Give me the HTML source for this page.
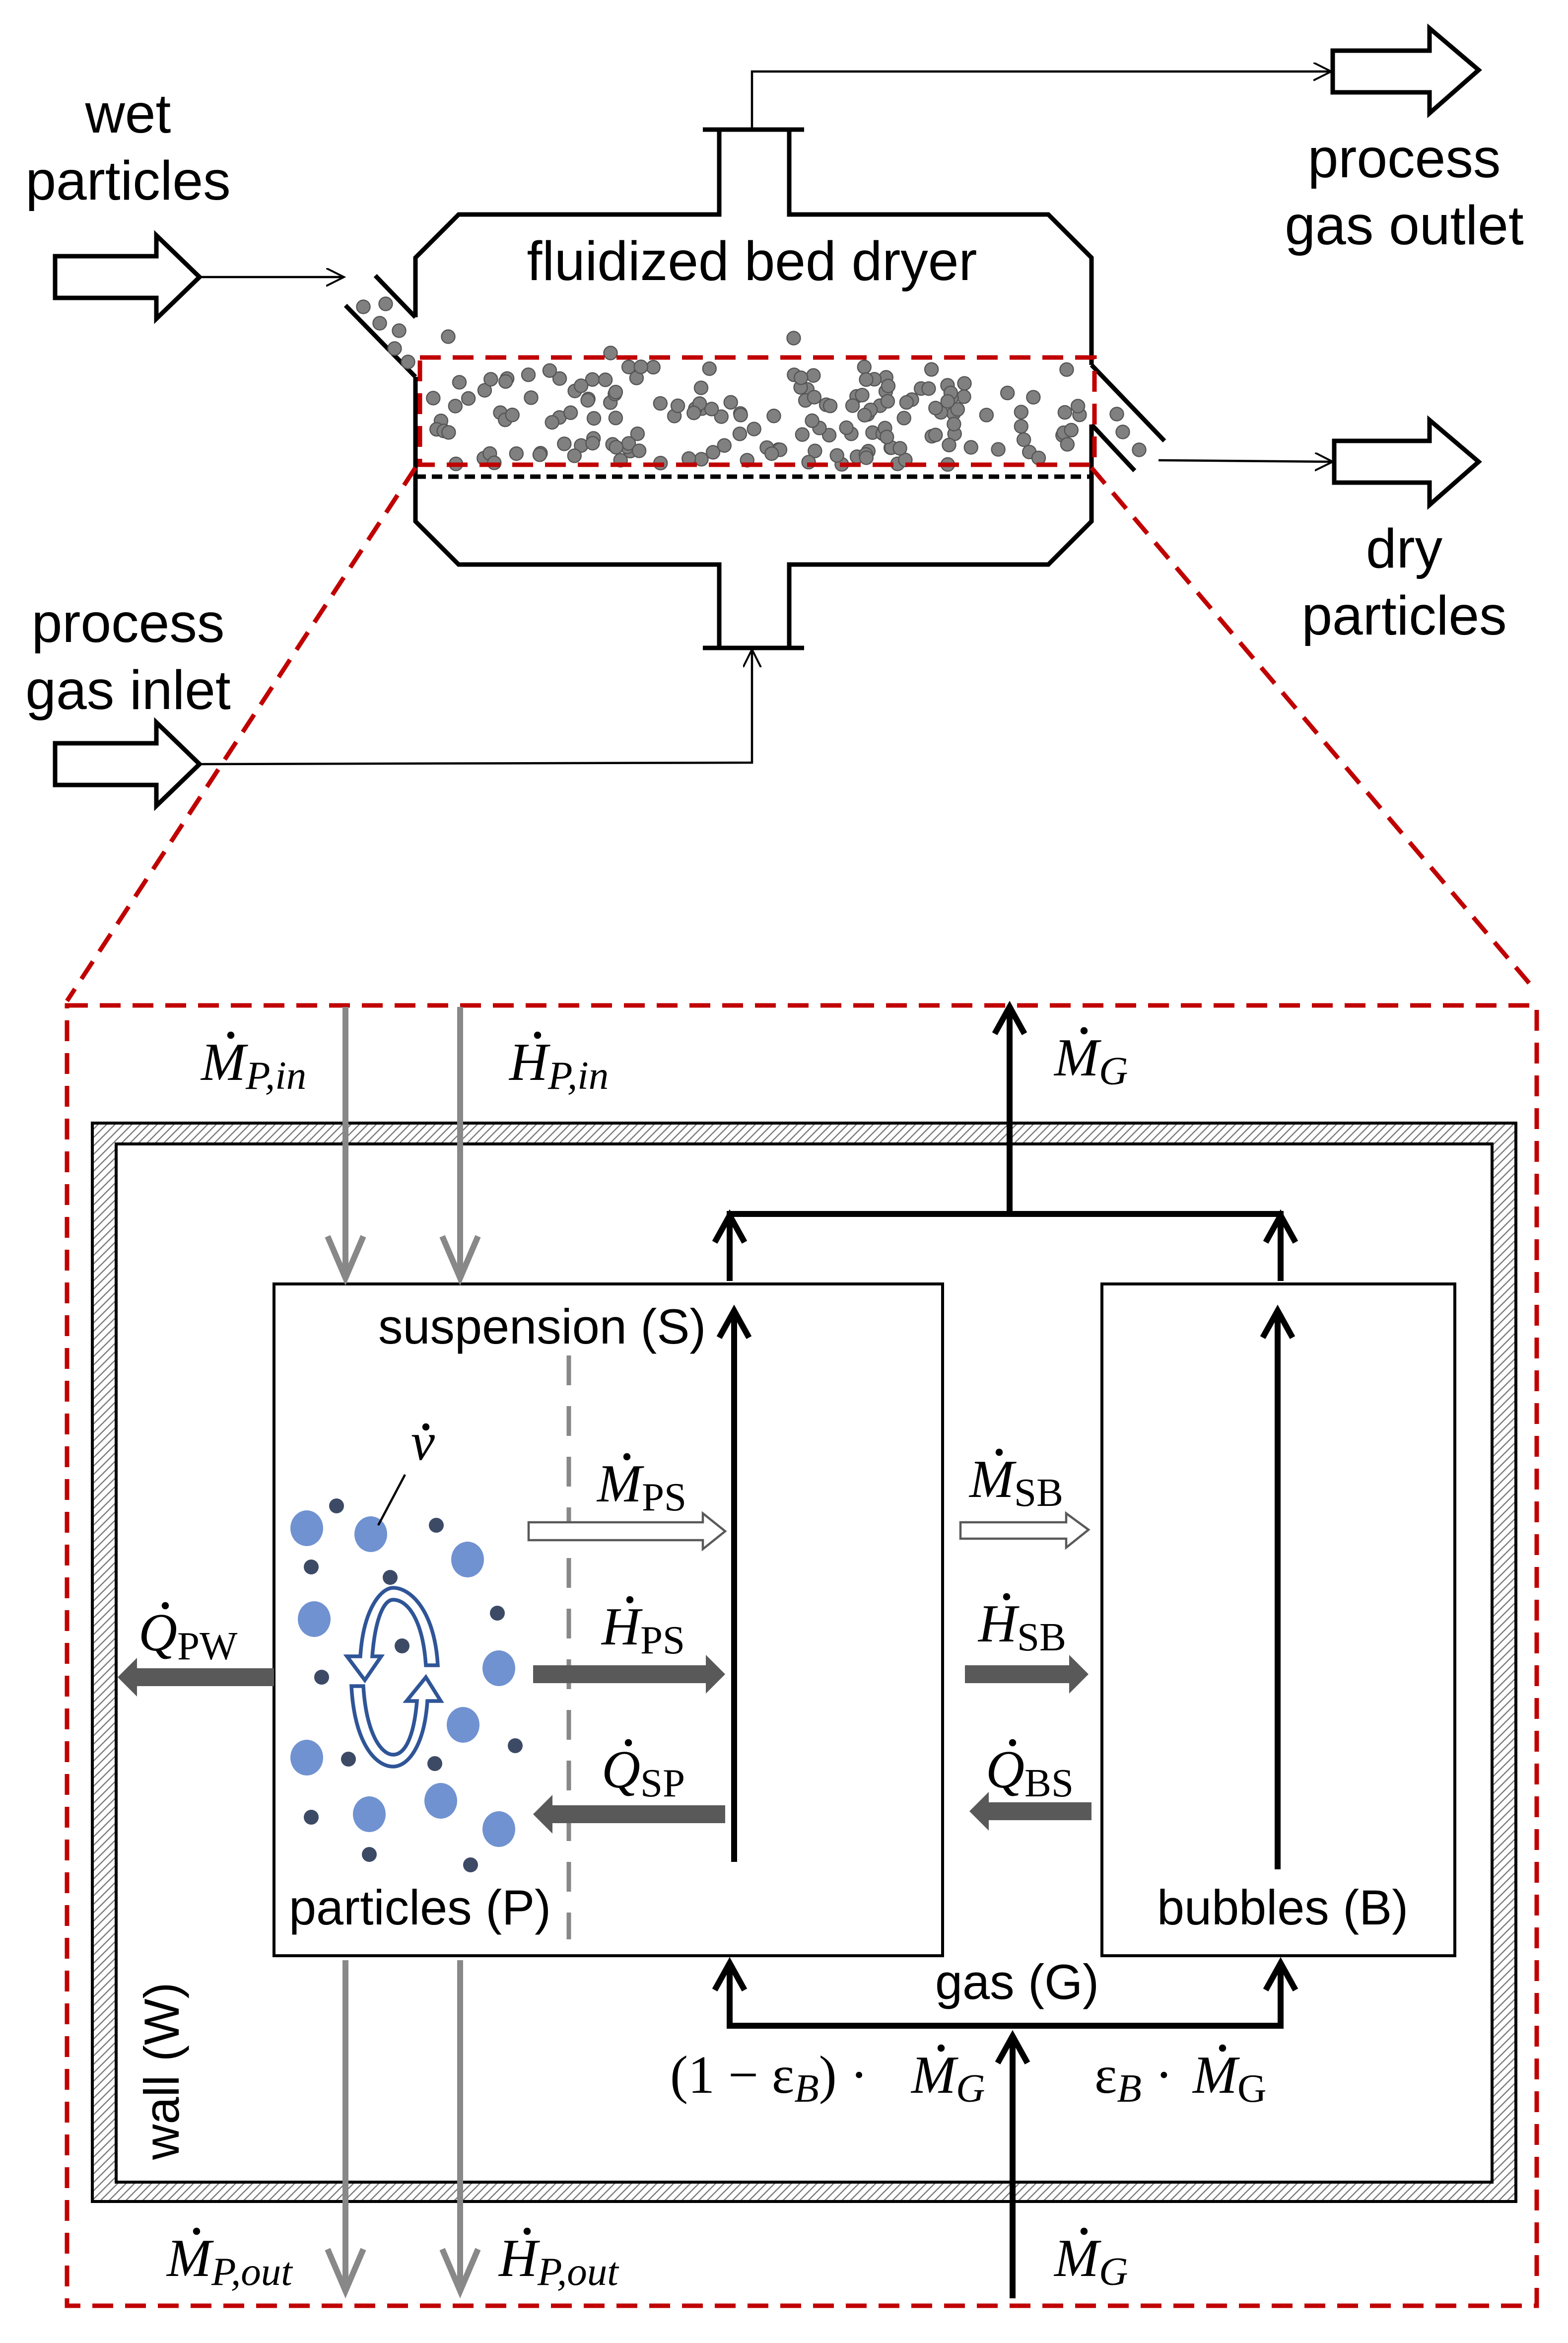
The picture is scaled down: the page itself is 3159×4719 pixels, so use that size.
<!DOCTYPE html>
<html><head><meta charset="utf-8"><style>html,body{margin:0;padding:0;background:#fff}svg{display:block}</style></head>
<body>
<svg id="s" xmlns="http://www.w3.org/2000/svg" width="3159" height="4719" viewBox="0 0 1053 1573">
<defs>
<pattern id="h" width="4" height="4" patternUnits="userSpaceOnUse" patternTransform="rotate(45)"><rect width="4" height="4" fill="#fff"/><line x1="0" y1="0" x2="0" y2="4" stroke="#777" stroke-width="1.6"/></pattern>
<marker id="oa" markerWidth="14" markerHeight="14" refX="12" refY="6" orient="auto" markerUnits="userSpaceOnUse"><path d="M0,0 L12,6 L0,12" fill="none" stroke="#000" stroke-width="1.3"/></marker>
</defs>
<g font-family="Liberation Sans, sans-serif" font-size="37" text-anchor="middle" fill="#000">
<text x="86" y="89">wet</text><text x="86" y="134">particles</text>
<text x="943" y="119">process</text><text x="943" y="164">gas outlet</text>
<text x="943" y="381">dry</text><text x="943" y="426">particles</text>
<text x="86" y="431">process</text><text x="86" y="476">gas inlet</text>
<text x="505" y="188">fluidized bed dryer</text>
</g>
<g fill="#fff" stroke="#000" stroke-width="3">
<path d="M37,172 H105 V158 L134,186 L105,214 V200 H37 Z"/>
<path d="M37,499 H105 V485 L134,513 L105,541 V527 H37 Z"/>
<path d="M895,34 H960 V19 L993,47 L960,76 V62 H895 Z"/>
<path d="M896,296 H960 V282 L993,310 L960,339 V324 H896 Z"/>
</g>
<g fill="none" stroke="#000" stroke-width="1.5">
<line x1="134" y1="186" x2="231" y2="186" marker-end="url(#oa)"/>
<polyline points="505,87 505,48 894,48" marker-end="url(#oa)"/>
<line x1="778" y1="309" x2="895" y2="310" marker-end="url(#oa)"/>
<polyline points="134,513 505,512 505,436" marker-end="url(#oa)"/>
</g>
<g fill="none" stroke="#000" stroke-width="3">
<path d="M279,213 V173 L308,144 H483 V87 M472,87 H540 M530,87 V144 H704 L733,173 V245"/>
<path d="M733,285 V350 L704,379 H530 V435 M472,435 H540 M483,435 V379 H308 L279,350 V253"/>
<line x1="252" y1="185" x2="279" y2="213"/><line x1="232" y1="205" x2="279" y2="253"/>
<line x1="733" y1="245" x2="782" y2="296"/><line x1="733" y1="285" x2="762" y2="316"/>
<line x1="279" y1="320" x2="733" y2="320" stroke-dasharray="7,4"/>
</g>
<g id="dots" fill="#808080" stroke="#555" stroke-width="0.8"></g>
<g fill="none" stroke="#c00000" stroke-width="3" stroke-dasharray="14,8">
<rect x="282" y="240" width="453" height="72"/>
<line x1="279" y1="314" x2="45" y2="672"/><line x1="733" y1="314" x2="1032" y2="666"/>
<rect x="45" y="675" width="987" height="873"/>
</g>
<path d="M62,754 H1018 V1478 H62 Z M78,768 V1465 H1002 V768 Z" fill="url(#h)" fill-rule="evenodd" stroke="#000" stroke-width="2"/>
<rect x="184" y="862" width="449" height="451" fill="#fff" stroke="#000" stroke-width="2"/>
<rect x="740" y="862" width="237" height="451" fill="#fff" stroke="#000" stroke-width="2"/>
<g font-family="Liberation Sans, sans-serif" font-size="33" fill="#000">
<text x="254" y="902">suspension (S)</text>
<text x="194" y="1292">particles (P)</text>
<text x="777" y="1292">bubbles (B)</text>
<text x="628" y="1342">gas (G)</text>
<text transform="translate(120,1450) rotate(-90)">wall (W)</text>
</g>
<line x1="382" y1="910" x2="382" y2="1302" stroke="#888" stroke-width="3" stroke-dasharray="20,14"/>
<g stroke="#888" stroke-width="4" fill="none">
<line x1="232" y1="676" x2="232" y2="856"/><line x1="309" y1="676" x2="309" y2="856"/>
<polyline points="220,830 232,858 244,830"/><polyline points="297,830 309,858 321,830"/>
<line x1="232" y1="1316" x2="232" y2="1536"/><line x1="309" y1="1316" x2="309" y2="1536"/>
<polyline points="220,1510 232,1538 244,1510"/><polyline points="297,1510 309,1538 321,1510"/>
</g>
<g stroke="#000" stroke-width="4" fill="none">
<line x1="678" y1="815" x2="678" y2="678"/><polyline points="668,694 678,676 688,694"/>
<polyline points="490,860 490,815 860,815 860,860"/>
<polyline points="480,834 490,816 500,834"/><polyline points="850,834 860,816 870,834"/>
<line x1="493" y1="1250" x2="493" y2="880"/><polyline points="483,898 493,880 503,898"/>
<line x1="858" y1="1255" x2="858" y2="880"/><polyline points="848,898 858,880 868,898"/>
<polyline points="490,1318 490,1360 860,1360 860,1318"/>
<polyline points="480,1336 490,1318 500,1336"/><polyline points="850,1336 860,1318 870,1336"/>
<line x1="680" y1="1543" x2="680" y2="1367"/><polyline points="670,1385 680,1367 690,1385"/>
</g>
<g stroke="#595959" stroke-width="1.5" fill="#fff">
<path d="M355,1022 H472 V1016 L487,1028 L472,1040 V1034 H355 Z"/>
<path d="M645,1022 H716 V1016 L731,1027 L716,1039 V1033 H645 Z"/>
</g>
<g fill="#595959">
<path d="M358,1118 H474 V1111 L487,1124 L474,1137 V1130 H358 Z"/>
<path d="M487,1212 H371 V1205 L358,1218 L371,1231 V1224 H487 Z"/>
<path d="M184,1120 H92 V1113 L79,1126 L92,1139 V1132 H184 Z"/>
<path d="M648,1118 H718 V1111 L731,1124 L718,1137 V1130 H648 Z"/>
<path d="M733,1210 H664 V1203 L651,1216 L664,1229 V1222 H733 Z"/>
</g>
<g fill="#7092d1">
<ellipse cx="206" cy="1026" rx="11" ry="12"/><ellipse cx="249" cy="1030" rx="11" ry="12"/><ellipse cx="314" cy="1047" rx="11" ry="12"/>
<ellipse cx="211" cy="1087" rx="11" ry="12"/><ellipse cx="335" cy="1120" rx="11" ry="12"/><ellipse cx="311" cy="1158" rx="11" ry="12"/>
<ellipse cx="206" cy="1180" rx="11" ry="12"/><ellipse cx="296" cy="1209" rx="11" ry="12"/><ellipse cx="248" cy="1218" rx="11" ry="12"/><ellipse cx="335" cy="1228" rx="11" ry="12"/>
</g>
<g fill="#3c4a66">
<circle cx="226" cy="1011" r="5"/><circle cx="293" cy="1024" r="5"/><circle cx="209" cy="1052" r="5"/><circle cx="262" cy="1059" r="5"/>
<circle cx="334" cy="1083" r="5"/><circle cx="270" cy="1105" r="5"/><circle cx="216" cy="1126" r="5"/><circle cx="346" cy="1172" r="5"/>
<circle cx="234" cy="1181" r="5"/><circle cx="292" cy="1184" r="5"/><circle cx="209" cy="1220" r="5"/><circle cx="248" cy="1245" r="5"/><circle cx="316" cy="1252" r="5"/>
</g>
<g fill="#fff" stroke="#2f5597" stroke-width="2.5">
<path d="M242,1112 C244,1080 256,1066 264,1066 C276,1066 292,1082 294,1118 L286,1118 C284,1088 274,1074 264,1074 C258,1074 252,1086 250,1112 L256,1112 L245,1128 L233,1112 Z"/>
<path d="M287,1142 C285,1172 274,1186 264,1186 C252,1186 238,1170 236,1132 L244,1132 C246,1164 256,1178 264,1178 C272,1178 278,1166 280,1142 L273,1142 L286,1126 L296,1142 Z"/>
</g>
<line x1="272" y1="990" x2="254" y2="1024" stroke="#000" stroke-width="1.5"/>
<g font-family="Liberation Serif, serif" font-size="36" fill="#000">
<text x="135" y="725" font-style="italic">M<tspan font-size="27" dy="6">P,in</tspan></text>
<text x="342" y="725" font-style="italic">H<tspan font-size="27" dy="6">P,in</tspan></text>
<text x="708" y="722" font-style="italic">M<tspan font-size="27" dy="6">G</tspan></text>
<text x="112" y="1528" font-style="italic">M<tspan font-size="27" dy="6">P,out</tspan></text>
<text x="335" y="1528" font-style="italic">H<tspan font-size="27" dy="6">P,out</tspan></text>
<text x="708" y="1528" font-style="italic">M<tspan font-size="27" dy="6">G</tspan></text>
<text x="450" y="1405">(1 − ε<tspan font-size="27" dy="6" font-style="italic">B</tspan><tspan dy="-6">) ·</tspan></text>
<text x="612" y="1405" font-style="italic">M<tspan font-size="27" dy="6">G</tspan></text>
<text x="735" y="1405">ε<tspan font-size="27" dy="6" font-style="italic">B</tspan><tspan dy="-6"> ·</tspan></text>
<text x="801" y="1405" font-style="italic">M<tspan font-size="27" dy="6" font-style="normal">G</tspan></text>
<text x="401" y="1008" font-style="italic">M<tspan font-size="27" dy="6" font-style="normal">PS</tspan></text>
<text x="404" y="1104" font-style="italic">H<tspan font-size="27" dy="6" font-style="normal">PS</tspan></text>
<text x="404" y="1200" font-style="italic">Q<tspan font-size="27" dy="6" font-style="normal">SP</tspan></text>
<text x="93" y="1108" font-style="italic">Q<tspan font-size="27" dy="6" font-style="normal">PW</tspan></text>
<text x="651" y="1005" font-style="italic">M<tspan font-size="27" dy="6" font-style="normal">SB</tspan></text>
<text x="657" y="1102" font-style="italic">H<tspan font-size="27" dy="6" font-style="normal">SB</tspan></text>
<text x="662" y="1200" font-style="italic">Q<tspan font-size="27" dy="6" font-style="normal">BS</tspan></text>
<text x="276" y="980" font-style="italic">ν</text>
</g>
<g fill="#000">
<circle cx="155" cy="695" r="2.4"/><circle cx="361" cy="695" r="2.4"/><circle cx="728" cy="692" r="2.4"/>
<circle cx="132" cy="1498" r="2.4"/><circle cx="354" cy="1498" r="2.4"/><circle cx="728" cy="1498" r="2.4"/>
<circle cx="632" cy="1375" r="2.4"/><circle cx="821" cy="1375" r="2.4"/>
<circle cx="421" cy="978" r="2.4"/><circle cx="423" cy="1074" r="2.4"/><circle cx="422" cy="1170" r="2.4"/>
<circle cx="111" cy="1078" r="2.4"/><circle cx="671" cy="975" r="2.4"/><circle cx="676" cy="1072" r="2.4"/><circle cx="680" cy="1170" r="2.4"/>
<circle cx="286" cy="958" r="2.4"/>
</g>
<script>
(function(){var g=document.getElementById('dots'),s=12345;function r(){s=(s*1103515245+12345)%2147483648;return s/2147483648;}
var ns='http://www.w3.org/2000/svg';
function add(x,y){var c=document.createElementNS(ns,'circle');c.setAttribute('cx',x);c.setAttribute('cy',y);c.setAttribute('r',4.5);g.appendChild(c);}
for(var i=0;i<170;i++){add(287+r()*440,246+r()*66);}
[[244,206],[259,204],[255,217],[268,222],[265,234],[274,243],[301,226],[533,227],[410,237],[754,290],[765,302],[750,278]].forEach(function(p){add(p[0],p[1]);});
})();
</script>
</svg>
</body></html>
